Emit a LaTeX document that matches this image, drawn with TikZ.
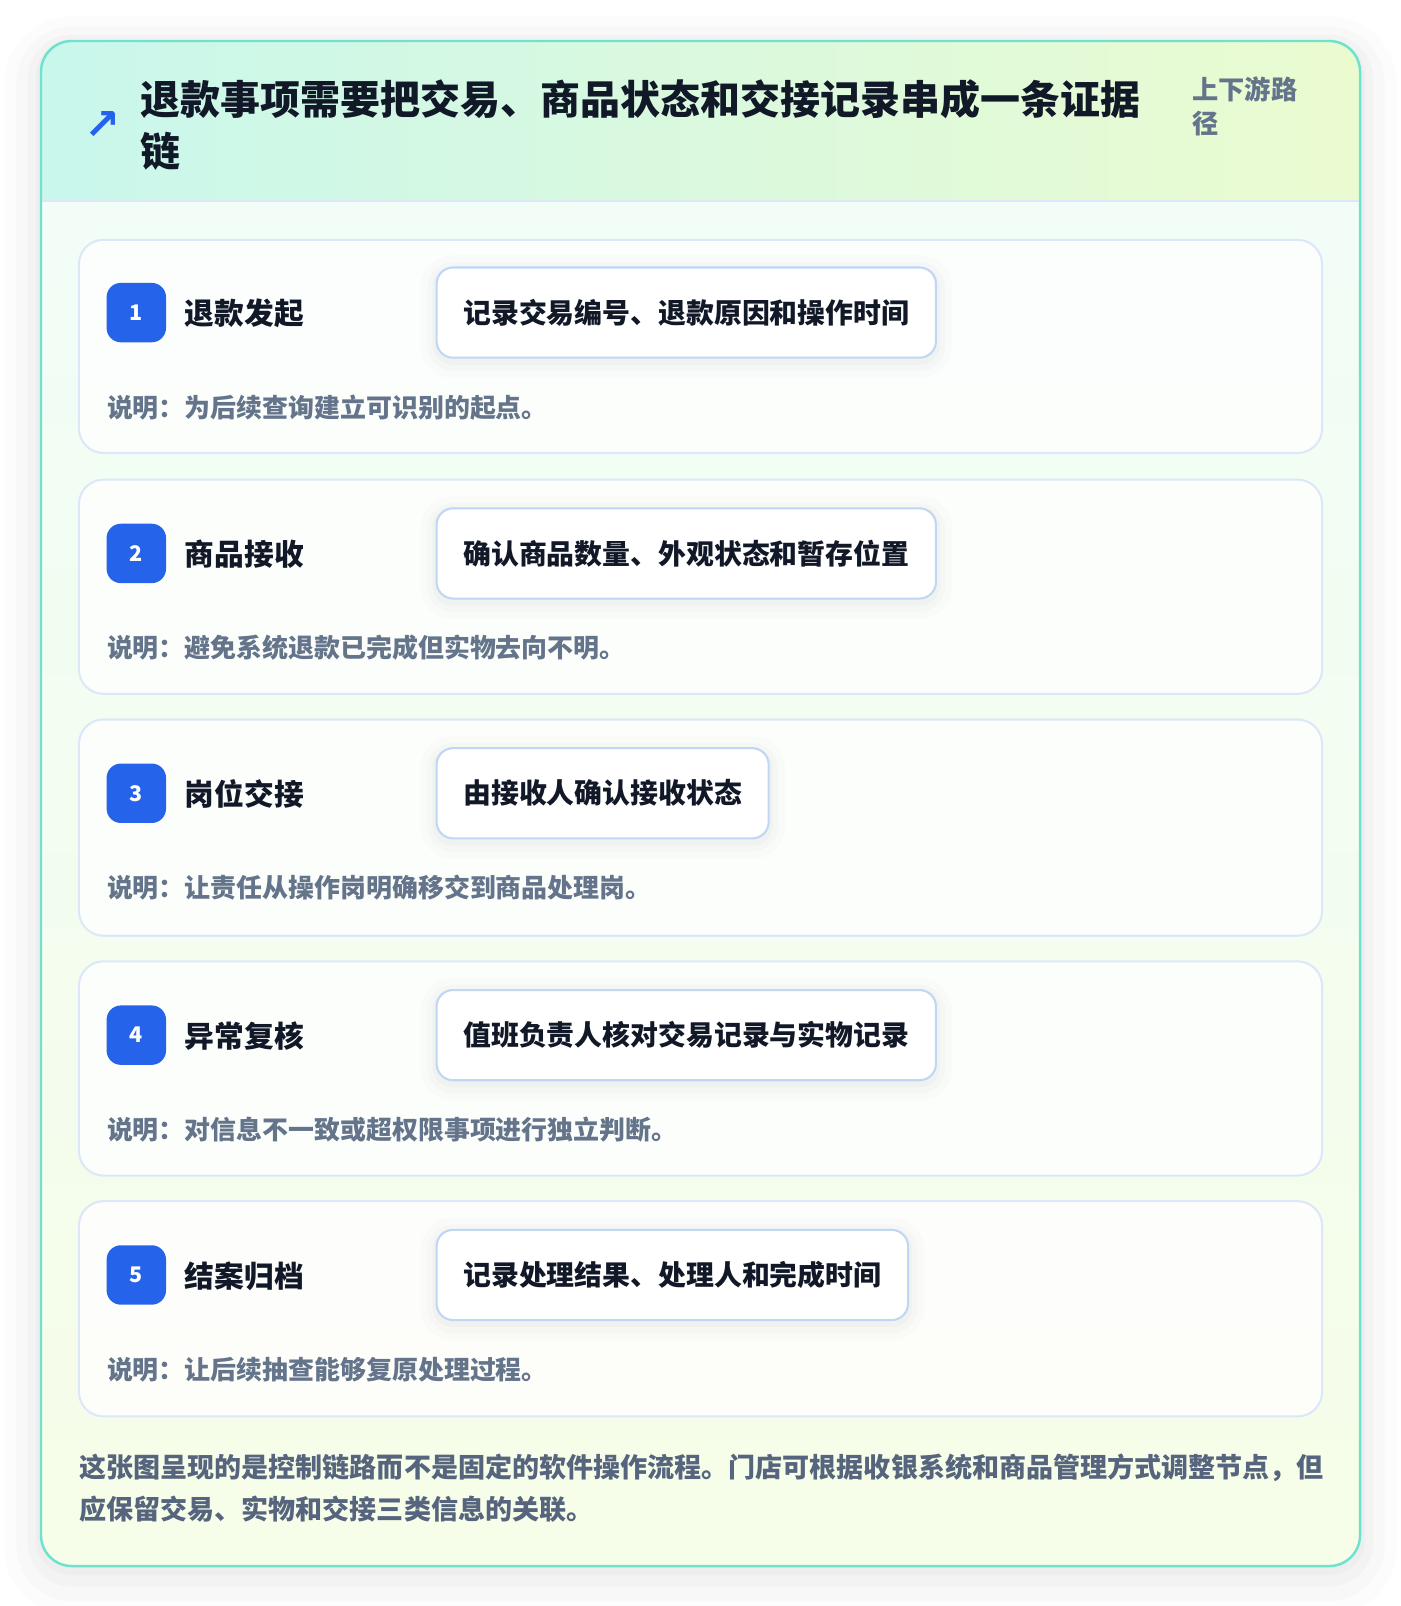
\documentclass[tikz,border=0pt]{standalone}
\usepackage{fontspec}
\setmainfont{Noto Sans CJK SC}
\newfontfamily\symfont{DejaVu Sans}

\definecolor{edgeteal}{HTML}{6EE2CF}
\definecolor{headleft}{HTML}{C9F7EC}
\definecolor{headright}{HTML}{EBFBD0}
\definecolor{bodytop}{HTML}{F0FDF8}
\definecolor{bodybottom}{HTML}{F6FDE8}
\definecolor{cardline}{HTML}{DCE8FA}
\definecolor{boxline}{HTML}{BFD6F5}
\definecolor{badgeblue}{HTML}{2563EB}
\definecolor{inkdark}{HTML}{111827}
\definecolor{inkgrey}{HTML}{64748B}
\definecolor{footgrey}{HTML}{56657D}

\tikzset{
  card/.style={draw=cardline, line width=1pt, fill=white, fill opacity=0.8, rounded corners=12pt},
  badge/.style={fill=badgeblue, text=white, rounded corners=7pt, minimum size=29pt, inner sep=0pt, font=\bfseries\fontsize{10.5}{12}\selectfont},
  steptitle/.style={anchor=west, text=inkdark, inner sep=0pt, font=\bfseries\fontsize{14.5}{17}\selectfont},
  detailbox/.style={anchor=west, draw=boxline, line width=1pt, fill=white, rounded corners=8pt, minimum height=44pt, inner xsep=13pt, text=inkdark, font=\bfseries\fontsize{13.6}{16}\selectfont,
    preaction={draw=black, draw opacity=0.012, line width=16pt, transform canvas={yshift=-2pt}},
    preaction={draw=black, draw opacity=0.014, line width=9pt, transform canvas={yshift=-2pt}},
    preaction={draw=black, draw opacity=0.018, line width=4pt, transform canvas={yshift=-1.5pt}}},
  notetext/.style={anchor=west, text=inkgrey, inner sep=0pt, font=\bfseries\fontsize{12.65}{15}\selectfont}
}

\begin{document}
\begin{tikzpicture}[x=0.5pt, y=-0.5pt]
		%%%%% FRAME %%%%%
		\fill[white] (0, 0) rectangle (1366, 1567);
		
		\draw[black, draw opacity=0.012, line width=36pt, rounded corners=15pt] (40, 52) rectangle (1327, 1540);
		\draw[black, draw opacity=0.015, line width=24pt, rounded corners=15pt] (40, 50) rectangle (1327, 1538);
		\draw[black, draw opacity=0.02, line width=13pt, rounded corners=15pt] (40, 47) rectangle (1327, 1535);
		\draw[black, draw opacity=0.02, line width=5pt, rounded corners=15pt] (40, 44) rectangle (1327, 1532);
		
		\shade[top color=bodytop, bottom color=bodybottom, rounded corners=15pt] (40, 40) rectangle (1327, 1528);
		\begin{scope}
			\clip[rounded corners=15pt] (40, 40) rectangle (1327, 1528);
			\shade[left color=headleft, right color=headright] (40, 40) rectangle (1327, 196);
		\end{scope}
		\draw[cardline, line width=1pt] (40, 196) -- (1327, 196);
		\draw[edgeteal, line width=1.2pt, rounded corners=15pt] (40, 40) rectangle (1327, 1528);
		
		%%%%% HEADER %%%%%
		\node[text=badgeblue, inner sep=0pt, font=\symfont\bfseries\fontsize{21}{21}\selectfont] (icon) at (100, 122) {↗};
		\node[anchor=west, align=left, inner sep=0pt, text=inkdark, font=\bfseries\fontsize{19.5}{25}\selectfont] (title) at (137, 122) {退款事项需要把交易、商品状态和交接记录串成一条证据\\链};
		\node[anchor=west, align=left, inner sep=0pt, text=inkgrey, font=\bfseries\fontsize{12.8}{16.5}\selectfont] (scope) at (1163, 104) {上下游路\\径};
		
		%%%%% STEP 1 %%%%%
		\draw[card] (77, 234) rectangle (1290, 442);
		\node[badge] (b1) at (133, 305) {1};
		\node[steptitle] (t1) at (180, 306) {退款发起};
		\node[detailbox] (d1) at (425, 305) {记录交易编号、退款原因和操作时间};
		\node[notetext] (n1) at (104, 398) {说明：为后续查询建立可识别的起点。};
		
		%%%%% STEP 2 %%%%%
		\draw[card] (77, 468) rectangle (1290, 677);
		\node[badge] (b2) at (133, 540) {2};
		\node[steptitle] (t2) at (180, 541) {商品接收};
		\node[detailbox] (d2) at (425, 540) {确认商品数量、外观状态和暂存位置};
		\node[notetext] (n2) at (104, 632) {说明：避免系统退款已完成但实物去向不明。};
		
		%%%%% STEP 3 %%%%%
		\draw[card] (77, 702) rectangle (1290, 913);
		\node[badge] (b3) at (133, 774) {3};
		\node[steptitle] (t3) at (180, 775) {岗位交接};
		\node[detailbox] (d3) at (425, 774) {由接收人确认接收状态};
		\node[notetext] (n3) at (104, 866) {说明：让责任从操作岗明确移交到商品处理岗。};
		
		%%%%% STEP 4 %%%%%
		\draw[card] (77, 938) rectangle (1290, 1147);
		\node[badge] (b4) at (133, 1010) {4};
		\node[steptitle] (t4) at (180, 1011) {异常复核};
		\node[detailbox] (d4) at (425, 1010) {值班负责人核对交易记录与实物记录};
		\node[notetext] (n4) at (104, 1102) {说明：对信息不一致或超权限事项进行独立判断。};
		
		%%%%% STEP 5 %%%%%
		\draw[card] (77, 1172) rectangle (1290, 1382);
		\node[badge] (b5) at (133, 1244) {5};
		\node[steptitle] (t5) at (180, 1245) {结案归档};
		\node[detailbox] (d5) at (425, 1244) {记录处理结果、处理人和完成时间};
		\node[notetext] (n5) at (104, 1336) {说明：让后续抽查能够复原处理过程。};
		
		%%%%% FOOTER %%%%%
		\node[anchor=west, align=left, inner sep=0pt, text=footgrey, font=\bfseries\fontsize{13.2}{20.5}\selectfont] (foot) at (77, 1452) {这张图呈现的是控制链路而不是固定的软件操作流程。门店可根据收银系统和商品管理方式调整节点，但\\应保留交易、实物和交接三类信息的关联。};
		
		\pgfresetboundingbox
		\useasboundingbox (0, 0) rectangle (1366, 1567);
\end{tikzpicture}
\end{document}
